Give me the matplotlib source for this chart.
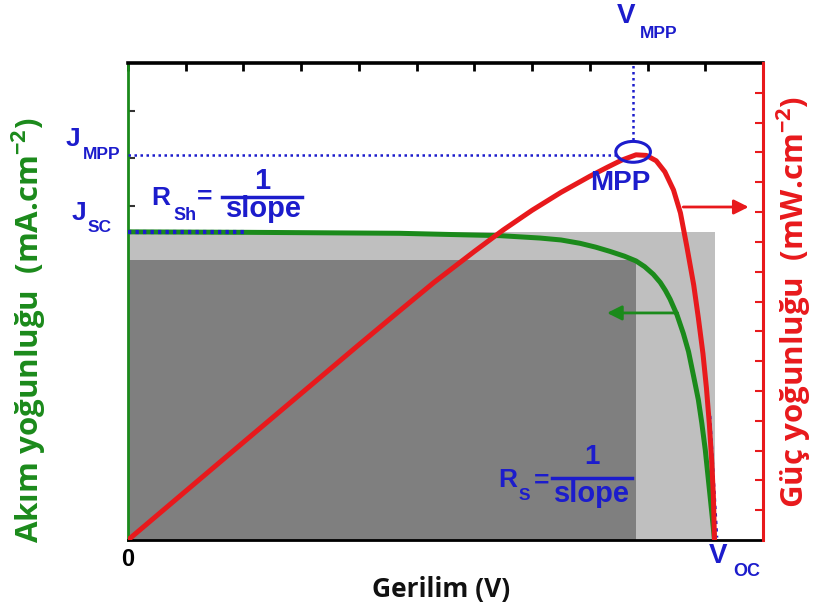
import numpy as np
import matplotlib.pyplot as plt
from matplotlib.patches import Rectangle, Ellipse

plt.rcParams['mathtext.default'] = 'regular'

# values (V in axis units, J left axis, P right axis)
v_j = [0, 2.1, 4.7, 6.45, 7.14, 7.5, 7.83, 8.1, 8.35, 8.6, 8.8, 8.95, 9.1,
       9.22, 9.31, 9.39, 9.51, 9.62, 9.71, 9.80, 9.88, 9.94, 10.00, 10.06,
       10.12, 10.16]
j = [6.46, 6.45, 6.43, 6.38, 6.33, 6.29, 6.22, 6.14, 6.05, 5.95, 5.85, 5.73, 5.57,
     5.40, 5.23, 5.05, 4.72, 4.33, 3.95, 3.42, 2.94, 2.45, 1.89, 1.19,
     0.49, 0]

v_p = [0, 2.0, 4.0, 4.7, 5.3, 6.0, 6.5, 7.0, 7.5, 8.0, 8.3, 8.55, 8.8, 8.98,
       9.15, 9.3, 9.45, 9.57, 9.68, 9.80, 9.88, 9.96, 10.02, 10.07, 10.11,
       10.14, 10.16]
p = [0, 3.28, 6.55, 7.68, 8.64, 9.68, 10.4, 11.06, 11.66, 12.2, 12.5, 12.74,
     12.92, 12.9, 12.72, 12.35, 11.74, 10.97, 9.85, 8.55, 7.45, 6.25, 5.1, 3.9,
     2.7, 1.5, 0]

v_oc = 10.16
j_sc = 6.46
v_mpp = 8.80
j_mpp = 5.87
p_mpp = 12.92

GREEN = '#1b8a1b'
RED = '#e8191c'
BLUE = '#1c1ccc'

fig = plt.figure(figsize=(8.23, 6.15), dpi=100)
ax = fig.add_axes([128 / 823, 75 / 615, 635 / 823, 477 / 615])
ax2 = ax.twinx()

ax.set_xlim(0, 11)
ax.set_ylim(0, 10)
ax2.set_ylim(0, 16)

# shaded areas
ax.add_patch(Rectangle((0, 0), v_oc, j_sc, color='#bfbfbf', zorder=0, lw=0))
ax.add_patch(Rectangle((0, 0), v_mpp, j_mpp, color='#7f7f7f', zorder=0.5, lw=0))

ax.plot(v_j, j, color=GREEN, lw=3.6, solid_capstyle='butt', zorder=3)
ax2.plot(v_p, p, color=RED, lw=3.6, solid_capstyle='butt', zorder=3)

# guide lines
ax2.plot([0, v_mpp - 0.3], [p_mpp, p_mpp], color=BLUE, lw=1.8,
         ls=(0, (1, 1.4)), zorder=2)
ax2.plot([v_mpp - 0.05, v_mpp - 0.05], [p_mpp + 0.5, 16], color=BLUE, lw=1.8,
         ls=(0, (1, 1.4)), zorder=2)
ax2.add_patch(Ellipse((v_mpp - 0.05, p_mpp + 0.1), 0.6, 0.7, fill=False,
                      ec=BLUE, lw=2.2, zorder=4))
ax.plot([0, 2.08], [j_sc, j_sc], color=BLUE, lw=3, ls=(0, (0.8, 1.0)), zorder=4)
ax.plot([10.07, 10.19], [2.6, 0.05], color=BLUE, lw=3, ls=(0, (0.8, 1.0)), zorder=4)

# direction arrows
ax.annotate('', xy=(8.25, 4.76), xytext=(9.57, 4.76),
            arrowprops=dict(arrowstyle='-|>', color=GREEN, lw=2, mutation_scale=22))
ax2.annotate('', xy=(10.8, 11.17), xytext=(9.57, 11.17),
             arrowprops=dict(arrowstyle='-|>', color=RED, lw=2, mutation_scale=22))

# spines and ticks
for s in ['left', 'top', 'bottom']:
    ax2.spines[s].set_visible(False)
ax.spines['right'].set_visible(False)
ax.spines['left'].set_color(GREEN)
ax.spines['left'].set_linewidth(2)
ax.spines['top'].set_linewidth(2.6)
ax.spines['bottom'].set_linewidth(2)
ax2.spines['right'].set_color(RED)
ax2.spines['right'].set_linewidth(2.2)

ax.set_xticks(range(0, 11))
ax.set_xticklabels(['0'] + [''] * 10)
ax.tick_params(axis='x', top=True, bottom=False, direction='in', length=6,
               width=2, labelbottom=True, pad=6)
for lab in ax.get_xticklabels():
    lab.set_fontfamily('Liberation Sans')
    lab.set_fontweight('bold')
    lab.set_fontsize(17)
ax.set_yticks([7, 8, 9])
ax.set_yticklabels([])
ax.tick_params(axis='y', direction='in', length=5, width=1.5, color='#333333')
ax2.set_yticks(range(1, 16))
ax2.set_yticklabels([])
ax2.tick_params(axis='y', direction='in', length=6, width=1.5, color=RED)

# labels
fig.text(441 / 823, 1 - 590 / 615, 'Gerilim (V)', ha='center', va='center',
         color='#111111', family='Open Sans', weight='bold', fontsize=19)
fig.text(29 / 823, 1 - 330 / 615, 'Akım yoğunluğu  (mA.cm$^{-2}$)', rotation=90,
         ha='center', va='center', color=GREEN, family='Open Sans', weight='bold',
         fontsize=22.5)
fig.text(794 / 823, 1 - 302 / 615, 'Güç yoğunluğu  (mW.cm$^{-2}$)', rotation=90,
         ha='center', va='center', color=RED, family='Open Sans', weight='bold',
         fontsize=22.5)


def ptext(x, y, s, size, **kw):
    fig.text(x / 823, 1 - y / 615, s, ha=kw.pop('ha', 'center'), va='center',
             color=kw.pop('color', BLUE), family='Liberation Sans', weight='bold',
             fontsize=size, **kw)


ptext(626, 16, 'V', 20)
ptext(659, 34, 'MPP', 12.5)
ptext(73, 139, 'J', 19)
ptext(102, 154, 'MPP', 12.5)
ptext(79, 213, 'J', 19)
ptext(100, 228, 'SC', 12.5)
ptext(620, 183, 'MPP', 20)
ptext(718, 556, 'V', 20)
ptext(747, 571, 'OC', 13)

ptext(161, 198, 'R', 19)
ptext(185, 216, 'Sh', 13)
ptext(205, 197, '=', 19)
ptext(262, 181, '1', 21)
ptext(264, 209, 'slope', 21)
fig.add_artist(plt.Line2D([222 / 823, 302 / 823], [1 - 197 / 615, 1 - 197 / 615],
                          color=BLUE, lw=2.5))

ptext(508, 480, 'R', 19)
ptext(524, 495, 'S', 12.5)
ptext(542, 481, '=', 19)
ptext(592, 457, '1', 20)
ptext(592, 494, 'slope', 21)
fig.add_artist(plt.Line2D([552 / 823, 632 / 823], [1 - 478 / 615, 1 - 478 / 615],
                          color=BLUE, lw=2.5))

fig.savefig('out.png', dpi=100, facecolor='white')
